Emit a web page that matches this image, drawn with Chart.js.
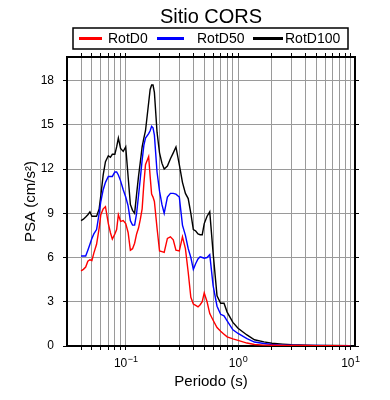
<!DOCTYPE html>
<html>
<head>
<meta charset="utf-8">
<script src="https://cdn.jsdelivr.net/npm/chart.js@4/dist/chart.umd.min.js"></script>
<style>
	html, body { margin: 0; padding: 0; background: #fff; }
	#wrap { width: 390px; height: 400px; }
</style>
</head>
<body>
<div id="wrap"><canvas id="psa-canvas"></canvas></div>
<script>
// periods (s)
const periods = [
	0.040, 0.042, 0.044, 0.046, 0.048,
	0.050, 0.052, 0.055, 0.058, 0.060,
	0.063, 0.066, 0.070, 0.073, 0.076,
	0.080, 0.083, 0.086, 0.090, 0.095,
	0.100, 0.105, 0.110, 0.115, 0.120,
	0.125, 0.130, 0.135, 0.140, 0.145,
	0.150, 0.160, 0.165, 0.170, 0.175,
	0.180, 0.190, 0.200, 0.210, 0.220,
	0.235, 0.250, 0.265, 0.280, 0.300,
	0.320, 0.340, 0.360, 0.380, 0.400,
	0.420, 0.440, 0.460, 0.480, 0.500,
	0.530, 0.560, 0.600, 0.650, 0.700,
	0.750, 0.800, 0.900, 1.0, 1.2,
	1.4, 1.7, 2.0, 2.5, 3.0,
	4.0, 5.0, 7.0, 10.0,
];

const rotD0 = [
	5.1, 5.2, 5.35, 5.75, 5.85,
	5.8, 6.3, 6.9, 8.0, 8.9,
	9.3, 9.45, 8.3, 7.7, 7.25,
	7.6, 7.9, 8.9, 8.45, 8.5,
	8.3, 7.7, 6.5, 6.6, 6.97,
	7.6, 8.0, 8.6, 9.3, 11.0,
	12.3, 12.85, 11.5, 10.3, 10.1,
	9.8, 8.0, 6.45, 6.4, 6.35,
	7.3, 7.4, 7.2, 6.5, 6.45,
	7.4, 6.6, 5.0, 3.3, 2.85,
	2.75, 2.65, 2.8, 3.0, 3.6,
	3.0, 2.2, 1.75, 1.25, 1.0,
	0.8, 0.62, 0.48, 0.38, 0.2,
	0.1, 0.06, 0.05, 0.04, 0.03,
	0.03, 0.02, 0.02, 0.01,
];

const rotD50 = [
	6.1, 6.1, 6.1, 6.5, 6.9,
	7.3, 7.6, 7.9, 9.0, 9.8,
	10.6, 11.1, 11.5, 11.5, 11.5,
	11.8, 11.8, 11.6, 11.2, 10.6,
	10.1, 9.5, 8.5, 8.2, 8.2,
	9.0, 10.2, 11.4, 12.6, 13.6,
	14.1, 14.4, 14.6, 14.9, 14.8,
	14.3, 11.8, 10.5, 9.6, 9.0,
	10.1, 10.35, 10.35, 10.3, 10.1,
	8.2, 7.5, 6.6, 6.0, 5.2,
	5.6, 5.9, 6.05, 6.0, 5.95,
	6.0, 6.2, 4.1, 2.7, 2.15,
	2.05, 1.7, 1.1, 0.85, 0.5,
	0.27, 0.17, 0.1, 0.06, 0.05,
	0.03, 0.03, 0.02, 0.01,
];

const rotD100 = [
	8.5, 8.6, 8.75, 8.9, 9.1,
	8.8, 8.8, 8.8, 9.3, 10.2,
	11.6, 12.5, 12.9, 12.8, 13.0,
	13.0, 13.5, 14.1, 13.4, 13.2,
	13.5, 11.5, 9.6, 9.2, 9.0,
	10.3, 11.5, 12.5, 13.5, 14.1,
	14.6, 16.5, 17.4, 17.7, 17.7,
	17.2, 14.5, 13.1, 12.4, 12.0,
	12.2, 12.7, 13.1, 13.5, 12.3,
	11.1, 10.35, 10.0, 9.0, 7.9,
	7.8, 7.6, 7.55, 7.55, 8.3,
	8.8, 9.1, 6.3, 3.4, 2.9,
	2.9, 2.3, 1.6, 1.2, 0.75,
	0.42, 0.28, 0.19, 0.13, 0.09,
	0.06, 0.04, 0.03, 0.02,
];

const seriesNames = ["RotD0", "RotD50", "RotD100"];
const seriesColors = ["#ff0000", "#0000ff", "#000000"];

const xTickValues = [
	0.04, 0.05, 0.06, 0.07, 0.08, 0.09,
	0.1, 0.2, 0.3, 0.4, 0.5, 0.6, 0.7, 0.8, 0.9,
	1, 2, 3, 4, 5, 6, 7, 8, 9, 10,
];
// labelled decades: 10^exponent
const xLabelValues = [0.1, 1, 10];
const xLabelExponents = ["\u22121", "0", "1"];

const chartTitle = "Sitio CORS";

Chart.defaults.font.family = "Liberation Sans";
Chart.defaults.color = "#000";

const toPoints = (ys) => periods.map((p, i) => ({ x: p, y: ys[i] }));
const seriesValues = [rotD0, rotD50, rotD100];

const gridColor = "#9a9a9a";

// title, framed legend and decade labels
const decorations = {
	id: "decorations",
	afterDraw(chart) {
		const { ctx, chartArea } = chart;
		const cx = (chartArea.left + chartArea.right) / 2;
		ctx.save();
		ctx.fillStyle = "#000";
		ctx.textAlign = "center";
		ctx.textBaseline = "alphabetic";
		ctx.font = "20px 'Liberation Sans'";
		ctx.fillText(chartTitle, cx, 23);

		// legend
		const left = chartArea.left + 6;
		const right = chartArea.right - 7;
		const top = 28, bottom = 49;
		const mid = (top + bottom) / 2;
		const items = [[6, 29, 35], [84, 111, 124], [180, 210, 212]];
		ctx.strokeStyle = "#000";
		ctx.lineWidth = 1.5;
		ctx.strokeRect(left, top, right - left, bottom - top);
		ctx.font = "14px 'Liberation Sans'";
		ctx.textAlign = "left";
		ctx.textBaseline = "middle";
		chart.data.datasets.forEach((ds, i) => {
			const [a, b, t] = items[i];
			ctx.strokeStyle = ds.borderColor;
			ctx.lineWidth = 3;
			ctx.beginPath();
			ctx.moveTo(left + a, mid);
			ctx.lineTo(left + b, mid);
			ctx.stroke();
			ctx.fillText(ds.label, left + t, mid + 1);
		});

		// x decade labels with superscript exponent
		const xs = chart.scales.x;
		const base = chartArea.bottom + 21;
		ctx.textBaseline = "alphabetic";
		xLabelValues.forEach((v, i) => {
			const px = xs.getPixelForValue(v);
			ctx.font = "12px 'Liberation Sans'";
			const w1 = ctx.measureText("10").width;
			ctx.font = "9px 'Liberation Sans'";
			const w2 = ctx.measureText(xLabelExponents[i]).width;
			const x0 = px - (w1 + w2) / 2;
			ctx.font = "12px 'Liberation Sans'";
			ctx.fillText("10", x0, base);
			ctx.font = "9px 'Liberation Sans'";
			ctx.fillText(xLabelExponents[i], x0 + w1 + 0.5, base - 5);
		});
		ctx.restore();
	},
};

const setXTicks = (scale) => {
	scale.ticks = xTickValues.map((v) => ({ value: v }));
};

const psaChart = new Chart(document.getElementById("psa-canvas"), {
	type: "line",
	data: {
		datasets: seriesNames.map((name, i) => ({
			label: name,
			data: toPoints(seriesValues[i]),
			borderColor: seriesColors[i],
			borderWidth: 1.4,
			pointRadius: 0,
			fill: false,
			tension: 0,
		})),
	},
	options: {
		responsive: true,
		maintainAspectRatio: false,
		animation: false,
		layout: { padding: { top: 53, left: 0, right: 31, bottom: 0 } },
		plugins: {
			legend: { display: false },
			tooltip: { enabled: false },
			title: { display: false },
		},
		scales: {
			x: {
				type: "logarithmic",
				position: "bottom",
				min: 0.03,
				max: 11,
				afterBuildTicks: setXTicks,
				afterFit: (s) => { s.height = 54; },
				grid: { color: gridColor, lineWidth: 1, tickColor: "#000", tickLength: 4 },
				border: { color: "#000", width: 2 },
				ticks: {
					autoSkip: false,
					maxRotation: 0,
					callback: () => "",
				},
				title: {
					display: true,
					text: "Periodo (s)",
					font: { size: 15 },
					padding: { top: 0, bottom: 9 },
				},
			},
			xTop: {
				type: "logarithmic",
				position: "top",
				min: 0.03,
				max: 11,
				afterBuildTicks: setXTicks,
				afterFit: (s) => { s.height = 4; },
				grid: { drawOnChartArea: false, tickColor: "#000", tickLength: 4 },
				border: { color: "#000", width: 2 },
				ticks: { display: false },
			},
			y: {
				position: "left",
				min: 0,
				max: 19.6,
				afterFit: (s) => { s.width = 67; },
				grid: { color: gridColor, lineWidth: 1, tickColor: "#000", tickLength: 4 },
				border: { color: "#000", width: 2 },
				ticks: { stepSize: 3, includeBounds: false, padding: 9, font: { size: 12 } },
				title: {
					display: true,
					text: "PSA (cm/s²)",
					font: { size: 15 },
					padding: { top: 22, bottom: 0 },
				},
			},
			yRight: {
				position: "right",
				min: 0,
				max: 19.6,
				afterFit: (s) => { s.width = 4; },
				grid: { drawOnChartArea: false, tickColor: "#000", tickLength: 4 },
				border: { color: "#000", width: 2 },
				ticks: { display: false, stepSize: 3, includeBounds: false },
			},
		},
	},
	plugins: [decorations],
});
</script>
</body>
</html>
